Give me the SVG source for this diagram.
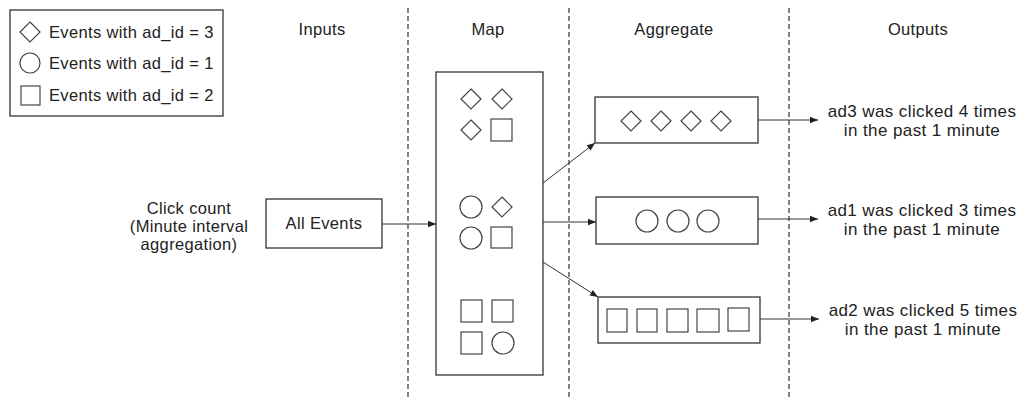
<svg xmlns="http://www.w3.org/2000/svg" width="1024" height="408" viewBox="0 0 1024 408">
<style>
text{font-family:"Liberation Sans",Arial,sans-serif;font-size:16.5px;fill:#222;letter-spacing:0.35px}
.c{text-anchor:middle}
.out{font-size:17px;letter-spacing:0.4px}
.box{fill:#fff;stroke:#333;stroke-width:1.3}
.sh{fill:none;stroke:#444;stroke-width:1.2}
.dash{stroke:#333;stroke-width:1.2;stroke-dasharray:5 3;fill:none}
.conn{stroke:#333;stroke-width:1;fill:none;marker-end:url(#arr)}
</style>
<defs>
<marker id="arr" viewBox="0 0 10 10" refX="10" refY="5" markerWidth="10" markerHeight="8" orient="auto" markerUnits="userSpaceOnUse">
<path d="M0,1 L10,5 L0,9 z" fill="#222"/>
</marker>
<path id="dia" d="M0,-10 L10,0 L0,10 L-10,0 z"/>
</defs>
<rect width="1024" height="408" fill="#fff"/>

<g id="legend">
<rect class="box" x="10" y="10" width="213" height="106"/>
<use href="#dia" class="sh" x="30" y="32"/>
<circle class="sh" cx="30" cy="63" r="10"/>
<rect class="sh" x="21" y="86" width="19" height="19"/>
<text x="49" y="38">Events with ad_id = 3</text>
<text x="49" y="69">Events with ad_id = 1</text>
<text x="49" y="101">Events with ad_id = 2</text>
</g>

<g id="columns">
<line class="dash" x1="408" y1="8" x2="408" y2="398"/>
<line class="dash" x1="569" y1="8" x2="569" y2="398"/>
<line class="dash" x1="789" y1="8" x2="789" y2="398"/>
<text class="c" x="322" y="35">Inputs</text>
<text class="c" x="488" y="35">Map</text>
<text class="c" x="674" y="35">Aggregate</text>
<text class="c" x="918" y="35">Outputs</text>
</g>

<g id="label-click-count">
<text class="c" x="189" y="214">Click count</text>
<text class="c" x="189" y="232">(Minute interval</text>
<text class="c" x="189" y="250">aggregation)</text>
</g>

<g id="all-events">
<rect class="box" x="266" y="199" width="116" height="49"/>
<text class="c" x="324" y="229">All Events</text>
</g>

<g id="map">
<rect class="box" x="436" y="72" width="107" height="303"/>
<use href="#dia" class="sh" x="471" y="99"/>
<use href="#dia" class="sh" x="502" y="99"/>
<use href="#dia" class="sh" x="471" y="130"/>
<rect class="sh" x="491" y="119" width="21" height="22"/>
<circle class="sh" cx="471" cy="207" r="11"/>
<use href="#dia" class="sh" x="502" y="207"/>
<circle class="sh" cx="471" cy="238" r="11"/>
<rect class="sh" x="491" y="227" width="21" height="21"/>
<rect class="sh" x="461" y="300" width="21" height="22"/>
<rect class="sh" x="492" y="300" width="21" height="22"/>
<rect class="sh" x="461" y="332" width="21" height="22"/>
<circle class="sh" cx="503" cy="343" r="11"/>
</g>

<g id="agg-ad3">
<rect class="box" x="595" y="97" width="163" height="46"/>
<use href="#dia" class="sh" x="631" y="121"/>
<use href="#dia" class="sh" x="661" y="121"/>
<use href="#dia" class="sh" x="691" y="121"/>
<use href="#dia" class="sh" x="721" y="121"/>
</g>

<g id="agg-ad1">
<rect class="box" x="596" y="197" width="162" height="47"/>
<circle class="sh" cx="647" cy="221" r="11"/>
<circle class="sh" cx="678" cy="221" r="11"/>
<circle class="sh" cx="708" cy="221" r="11"/>
</g>

<g id="agg-ad2">
<rect class="box" x="598" y="297" width="162" height="46"/>
<rect class="sh" x="607" y="309" width="20" height="23"/>
<rect class="sh" x="637" y="309" width="20" height="23"/>
<rect class="sh" x="667" y="309" width="21" height="23"/>
<rect class="sh" x="697" y="309" width="22" height="23"/>
<rect class="sh" x="728" y="308" width="21" height="23"/>
</g>

<g id="outputs">
<text class="c out" x="922" y="117">ad3 was clicked 4 times</text>
<text class="c out" x="922" y="136">in the past 1 minute</text>
<text class="c out" x="922" y="216">ad1 was clicked 3 times</text>
<text class="c out" x="922" y="235">in the past 1 minute</text>
<text class="c out" x="923" y="316">ad2 was clicked 5 times</text>
<text class="c out" x="923" y="335">in the past 1 minute</text>
</g>

<g id="connectors">
<line class="conn" x1="382" y1="224" x2="436" y2="224"/>
<line class="conn" x1="543" y1="183" x2="595" y2="143"/>
<line class="conn" x1="543" y1="222" x2="596" y2="222"/>
<line class="conn" x1="543" y1="262" x2="598" y2="297"/>
<line class="conn" x1="758" y1="120" x2="818" y2="120"/>
<line class="conn" x1="758" y1="219" x2="818" y2="219"/>
<line class="conn" x1="760" y1="319" x2="819" y2="319"/>
</g>
</svg>
